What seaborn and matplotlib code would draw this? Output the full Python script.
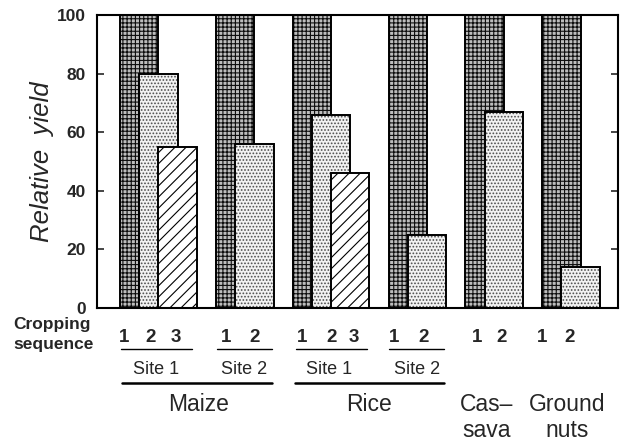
import matplotlib
matplotlib.use("Agg")
import matplotlib.pyplot as plt
import matplotlib.colors as mcolors
import seaborn as sns
import pandas as pd

# ---- data ----
groups = ["Maize Site 1", "Maize Site 2", "Rice Site 1", "Rice Site 2", "Cassava", "Groundnuts"]
seq1 = [100, 100, 100, 100, 100, 100]
seq2 = [80, 56, 66, 25, 67, 14]
seq3 = [55, None, 46, None, None, None]
seq_labels = [["1", "2", "3"], ["1", "2"], ["1", "2", "3"], ["1", "2"], ["1", "2"], ["1", "2"]]
site_labels = ["Site 1", "Site 2", "Site 1", "Site 2"]
crop_labels = ["Maize", "Rice", "Cas\u2013\nsava", "Ground\nnuts"]
yticks = [0, 20, 40, 60, 80, 100]

# ---- layout (positions of groups on x axis) ----
group_start = [1, 6, 10, 15, 19, 23]

rows = []
for g, start, a, b, c in zip(groups, group_start, seq1, seq2, seq3):
    for k, v in enumerate([a, b, c]):
        if v is not None:
            rows.append({"group": g, "pos": start + k, "value": v, "seq": str(k + 1)})
df = pd.DataFrame(rows)

sns.set_theme(style="white")
plt.rcParams["font.family"] = ["Liberation Sans", "DejaVu Sans"]
plt.rcParams["hatch.linewidth"] = 0.8

fig = plt.figure(figsize=(6.26, 4.41), dpi=100)
ax = fig.add_axes([97 / 626, 1 - 308 / 441, (618 - 97) / 626, 293 / 441])

palette = {"1": "#bdbdbd", "2": "#f2f2f2", "3": "#ffffff"}
sns.barplot(data=df, x="pos", y="value", hue="seq", palette=palette,
            native_scale=True, dodge=False, width=2.0, errorbar=None,
            edgecolor="black", linewidth=1.4, saturation=1, legend=False, ax=ax)

hatch_map = {"1": "++++", "2": ".....", "3": "///"}
hatch_col = {"1": (0.05, 0.05, 0.05, 1), "2": (0.3, 0.3, 0.3, 1), "3": (0.0, 0.0, 0.0, 1)}
col_to_seq = {mcolors.to_hex(c): s for s, c in palette.items()}
for p in ax.patches:
    s = col_to_seq.get(mcolors.to_hex(p.get_facecolor()))
    if s is None:
        continue
    p.set_hatch(hatch_map[s])
    p._hatch_color = hatch_col[s]

ax.set_xlim(-1.2, 25.95)
ax.set_ylim(0, 100)
ax.set_yticks(yticks)
ax.set_yticklabels([str(t) for t in yticks], fontsize=12.5, fontweight="bold")
ax.set_xticks([])
ax.set_xlabel("")
ax.set_ylabel("Relative  yield", fontsize=18.5, fontstyle="italic", labelpad=2)
ax.tick_params(axis="y", which="both", direction="in", length=5, width=1.2,
               left=True, right=True, labelleft=True, labelright=False, pad=8)
for sp in ax.spines.values():
    sp.set_visible(True)
    sp.set_linewidth(1.5)
    sp.set_color("black")

tr = ax.get_xaxis_transform()

def ay(py):
    return (308 - py) / 293

# cropping sequence numbers
num_offsets = [[0.2, 1.6, 2.9], [5.5, 7.0], [9.5, 11.0, 12.2], [14.3, 15.8], [18.6, 19.9], [22.0, 23.4]]
for labs, xs in zip(seq_labels, num_offsets):
    for lab, x in zip(labs, xs):
        ax.text(x, ay(337), lab, transform=tr, ha="center", va="center",
                fontsize=13.5, fontweight="bold", clip_on=False)

# thin lines under sequence numbers
seq_lines = [(0.05, 3.75), (5.05, 7.9), (9.15, 12.85), (14.0, 16.9)]
for x0, x1 in seq_lines:
    ax.plot([x0, x1], [ay(349), ay(349)], transform=tr, color="black", lw=1.0, clip_on=False)

# site labels
site_x = [1.9, 6.45, 10.9, 15.5]
for lab, x in zip(site_labels, site_x):
    ax.text(x, ay(369), lab, transform=tr, ha="center", va="center",
            fontsize=13, clip_on=False)

# thick lines under sites
crop_lines = [(0.1, 7.9), (9.1, 16.9)]
for x0, x1 in crop_lines:
    ax.plot([x0, x1], [ay(382.5), ay(382.5)], transform=tr, color="black", lw=1.8, clip_on=False)

# crop labels
crop_x = [4.1, 13.0, 19.1, 23.3]
for lab, x in zip(crop_labels, crop_x):
    ax.text(x, ay(393), lab, transform=tr, ha="center", va="top",
            fontsize=16.5, linespacing=1.15, clip_on=False)

fig.text(13 / 626, 1 - 325 / 441, "Cropping", ha="left", va="center", fontsize=12.5, fontweight="bold")
fig.text(13 / 626, 1 - 345 / 441, "sequence", ha="left", va="center", fontsize=12.5, fontweight="bold")

fig.savefig("out.png", dpi=100)
